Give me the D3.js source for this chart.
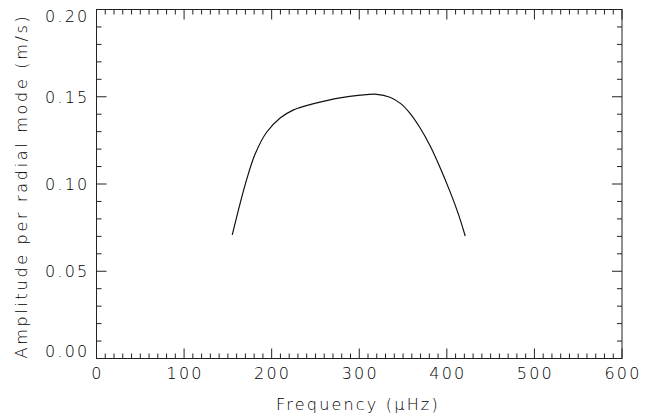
<!DOCTYPE html>
<html>
<head>
<meta charset="utf-8">
<script src="https://cdn.jsdelivr.net/npm/d3@7"></script>
<style>
  body { margin: 0; background: #fff; }
  svg text { font-family: "DejaVu Sans", sans-serif; font-weight: 200; fill: #000; }
</style>
</head>
<body>
<div id="chart"></div>
<script>
const WIDTH = 659;
const HEIGHT = 418;
const MARGIN = { top: 9.5, right: 37, bottom: 59.5, left: 96.5 };

// amplitude curve
const frequency = [155, 164, 172, 181, 194, 210, 225, 232, 248, 278, 301, 320, 335, 347, 358, 369, 381, 392, 404, 413, 421];
const amplitude = [0.0708, 0.0889, 0.1035, 0.1170, 0.1295, 0.1380, 0.1425, 0.1438, 0.1461, 0.1494, 0.1509, 0.1514, 0.1497, 0.1462, 0.1405, 0.1325, 0.1218, 0.1098, 0.0952, 0.0830, 0.0702];

const xMajor = [0, 100, 200, 300, 400, 500, 600];
const yMajor = [0, 0.05, 0.1, 0.15, 0.2];
const xLabel = "Frequency (\u03bcHz)";
const yLabel = "Amplitude per radial mode (m/s)";

const svg = d3.select("#chart").append("svg").attr("width", WIDTH).attr("height", HEIGHT);

const x = d3.scaleLinear().domain([0, 600]).range([MARGIN.left, WIDTH - MARGIN.right]);
const y = d3.scaleLinear().domain([0, 0.2]).range([HEIGHT - MARGIN.bottom, MARGIN.top]);

const xMinor = d3.range(0, 601, 10).filter((d) => d % 100 !== 0);
const yMinor = d3.range(0, 21).map((d) => d / 100).filter((d, i) => i % 5 !== 0);

const axisColor = "#222";
const x0 = x.range()[0], x1 = x.range()[1];
const y0 = y.range()[0], y1 = y.range()[1];

const frame = svg.append("g").attr("stroke", axisColor).attr("stroke-width", 1).attr("fill", "none");
frame.append("rect").attr("x", x0).attr("y", y1).attr("width", x1 - x0).attr("height", y0 - y1);

// ticks on all four sides, pointing inward
function xTicks(vals, len) {
  vals.forEach((v) => {
    frame.append("line").attr("x1", x(v)).attr("x2", x(v)).attr("y1", y0).attr("y2", y0 - len);
    frame.append("line").attr("x1", x(v)).attr("x2", x(v)).attr("y1", y1).attr("y2", y1 + len);
  });
}
function yTicks(vals, len) {
  vals.forEach((v) => {
    frame.append("line").attr("x1", x0).attr("x2", x0 + len).attr("y1", y(v)).attr("y2", y(v));
    frame.append("line").attr("x1", x1).attr("x2", x1 - len).attr("y1", y(v)).attr("y2", y(v));
  });
}
xTicks(xMajor, 10);
xTicks(xMinor, 5);
yTicks(yMajor, 10);
yTicks(yMinor, 5);

svg.append("g").selectAll("text").data(xMajor).join("text")
  .attr("x", (d) => x(d) + 1)
  .attr("y", y0 + 20)
  .attr("text-anchor", "middle")
  .attr("font-size", 16)
  .attr("letter-spacing", 2.2)
  .text((d) => d);

// end labels are kept inside the frame height
svg.append("g").selectAll("text").data(yMajor).join("text")
  .attr("x", x0 - 7)
  .attr("y", (d) => Math.min(Math.max(y(d), y1 + 7), y0 - 7))
  .attr("dy", "0.36em")
  .attr("text-anchor", "end")
  .attr("font-size", 16)
  .attr("letter-spacing", 2.2)
  .text((d) => d3.format(".2f")(d));

svg.append("text")
  .attr("x", 358)
  .attr("y", HEIGHT - 8)
  .attr("text-anchor", "middle")
  .attr("font-size", 16)
  .attr("letter-spacing", 2.2)
  .text(xLabel);

svg.append("text")
  .attr("transform", `translate(27,${(y0 + y1) / 2 + 2}) rotate(-90)`)
  .attr("text-anchor", "middle")
  .attr("font-size", 16)
  .attr("letter-spacing", 2.7)
  .text(yLabel);

const line = d3.line()
  .x((d) => x(d[0]))
  .y((d) => y(d[1]))
  .curve(d3.curveCatmullRom.alpha(0.5));

svg.append("path")
  .datum(d3.zip(frequency, amplitude))
  .attr("fill", "none")
  .attr("stroke", "#111")
  .attr("stroke-width", 1.2)
  .attr("d", line);
</script>
</body>
</html>
